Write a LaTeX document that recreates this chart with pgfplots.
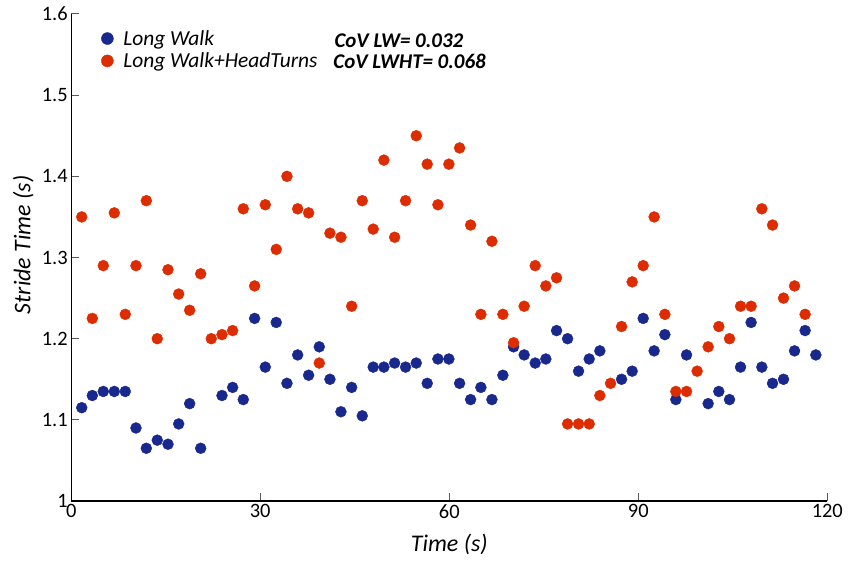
\documentclass[border=0pt]{standalone}
\usepackage{fontspec}
\setmainfont{Carlito}
\usepackage{pgfplots}
\pgfplotsset{compat=1.18}
\usetikzlibrary{calc}
\definecolor{lwblue}{RGB}{24,40,140}
\definecolor{lwred}{RGB}{221,44,0}
\pgfplotsset{dotlegend/.style={legend image code/.code={\path[draw=none, fill=none] (0bp,0bp) -- (20bp,0bp); \draw[mark repeat=2, mark phase=2, mark size=6bp] plot coordinates {(0bp,0bp) (6bp,0bp) (12bp,0bp)};}}}
\begin{document}
\begin{tikzpicture}
\begin{axis}[
  scale only axis, width=756bp, height=487bp,
  xmin=0, xmax=120, ymin=1, ymax=1.6,
  axis x line=bottom, axis y line=left,
  axis line style={-, line width=1.3bp},
  xtick={0,30,60,90,120}, ytick={1,1.1,1.2,1.3,1.4,1.5,1.6},
  tick align=inside, major tick length=8bp,
  tick style={black!65, line width=1bp},
  /pgf/number format/assume math mode=true,
  ticklabel style={font=\fontsize{20.5}{22}\selectfont},
  xlabel={Time (s)}, ylabel={Stride Time (s)},
  every axis x label/.style={at={(axis description cs:0.5,-0.09)}, anchor=center, font=\fontsize{24}{26}\selectfont\itshape},
  every axis y label/.style={at={(axis description cs:-0.0635,0.526)}, rotate=90, anchor=center, font=\fontsize{24}{26}\selectfont\itshape},
  clip=false,
  legend cell align=left,
  legend style={at={(axis description cs:0.0357,0.975)}, anchor=north west, draw=none, fill=none,
    font=\fontsize{21.5}{23}\selectfont\itshape, row sep=2bp},
]
\coordinate (sw) at (rel axis cs:0,0);
\coordinate (ne) at (rel axis cs:1,1);
\addplot[only marks, mark=*, mark size=5.5pt, color=lwblue, mark options={draw=lwblue, fill=lwblue}, dotlegend] table {
x y
1.67 1.115
3.35 1.130
5.09 1.135
6.84 1.135
8.58 1.135
10.28 1.090
11.92 1.065
13.66 1.075
15.36 1.070
17.06 1.095
18.80 1.120
20.55 1.065
23.93 1.130
25.62 1.140
27.31 1.125
29.11 1.225
30.80 1.165
32.54 1.220
34.24 1.145
35.94 1.180
37.68 1.155
39.37 1.190
41.06 1.150
42.81 1.110
44.51 1.140
46.19 1.105
47.93 1.165
49.63 1.165
51.33 1.170
53.07 1.165
54.76 1.170
56.50 1.145
58.20 1.175
59.94 1.175
61.64 1.145
63.39 1.125
65.02 1.140
66.77 1.125
68.51 1.155
70.21 1.190
71.89 1.180
73.64 1.170
75.33 1.175
77.03 1.210
78.78 1.200
80.52 1.160
82.21 1.175
83.90 1.185
87.35 1.150
89.03 1.160
90.78 1.225
92.52 1.185
94.22 1.205
95.96 1.125
97.66 1.180
101.09 1.120
102.78 1.135
104.48 1.125
106.23 1.165
107.91 1.220
109.61 1.165
111.31 1.145
113.05 1.150
114.80 1.185
116.48 1.210
118.18 1.180
};
\addlegendentry{Long Walk}
\addplot[only marks, mark=*, mark size=5.5pt, color=lwred, mark options={draw=lwred, fill=lwred}, dotlegend] table {
x y
1.67 1.350
3.35 1.225
5.09 1.290
6.84 1.355
8.58 1.230
10.28 1.290
11.92 1.370
13.66 1.200
15.36 1.285
17.06 1.255
18.80 1.235
20.55 1.280
22.23 1.200
23.93 1.205
25.62 1.210
27.31 1.360
29.11 1.265
30.80 1.365
32.54 1.310
34.24 1.400
35.94 1.360
37.68 1.355
39.37 1.170
41.06 1.330
42.81 1.325
44.51 1.240
46.19 1.370
47.93 1.335
49.63 1.420
51.33 1.325
53.07 1.370
54.76 1.450
56.50 1.415
58.20 1.365
59.94 1.415
61.64 1.435
63.39 1.340
65.02 1.230
66.77 1.320
68.51 1.230
70.21 1.195
71.89 1.240
73.64 1.290
75.33 1.265
77.03 1.275
78.78 1.095
80.52 1.095
82.21 1.095
83.90 1.130
85.60 1.145
87.35 1.215
89.03 1.270
90.78 1.290
92.52 1.350
94.22 1.230
95.96 1.135
97.66 1.135
99.34 1.160
101.09 1.190
102.78 1.215
104.48 1.200
106.23 1.240
107.91 1.240
109.61 1.360
111.31 1.340
113.05 1.250
114.80 1.265
116.48 1.230
};
\addlegendentry{Long Walk+HeadTurns}
\node[anchor=base west, inner sep=0pt, font=\fontsize{21}{23}\selectfont\bfseries\itshape] at (rel axis cs:0.348,0.932) {CoV LW= 0.032};
\node[anchor=base west, inner sep=0pt, font=\fontsize{21}{23}\selectfont\bfseries\itshape] at (rel axis cs:0.3466,0.889) {CoV LWHT= 0.068};
\end{axis}
\pgfresetboundingbox
\path[use as bounding box] ($(sw)+(-71.2bp,-60.7bp)$) rectangle ($(ne)+(20.7bp,14bp)$);
\end{tikzpicture}
\end{document}
